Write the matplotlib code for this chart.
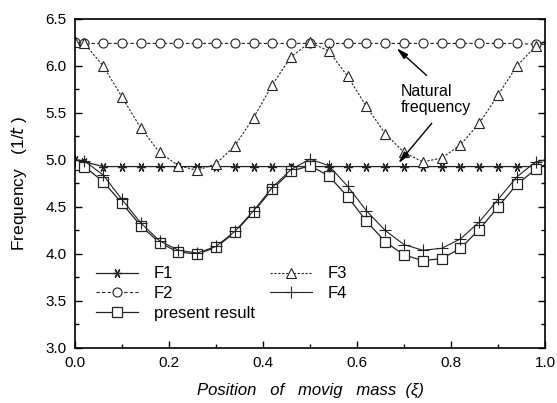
import matplotlib
matplotlib.use("Agg")
import matplotlib.pyplot as plt
from matplotlib.ticker import MultipleLocator

plt.rcParams['font.family'] = ['Liberation Sans', 'DejaVu Sans']

# positions of the moving mass (xi)
xi = [0.00, 0.02, 0.06, 0.10, 0.14, 0.18, 0.22, 0.26, 0.30, 0.34, 0.38, 0.42, 0.46, 0.50,
      0.54, 0.58, 0.62, 0.66, 0.70, 0.74, 0.78, 0.82, 0.86, 0.90, 0.94, 0.98, 1.00]

f1 = [5.00, 4.98, 4.93, 4.93, 4.93, 4.93, 4.93, 4.93, 4.93, 4.93, 4.93, 4.93, 4.93, 4.93,
      4.93, 4.93, 4.93, 4.93, 4.93, 4.93, 4.93, 4.93, 4.93, 4.93, 4.93, 4.93, 4.93]
f2 = [6.25, 6.24, 6.24, 6.24, 6.24, 6.24, 6.24, 6.24, 6.24, 6.24, 6.24, 6.24, 6.24, 6.24,
      6.24, 6.24, 6.24, 6.24, 6.24, 6.24, 6.24, 6.24, 6.24, 6.24, 6.24, 6.23, 6.23]
f3 = [6.26, 6.24, 6.00, 5.67, 5.34, 5.08, 4.94, 4.89, 4.96, 5.15, 5.45, 5.80, 6.10, 6.25,
      6.16, 5.89, 5.57, 5.28, 5.08, 4.98, 5.02, 5.16, 5.39, 5.69, 6.00, 6.21, 6.26]
f4 = [5.00, 4.99, 4.84, 4.58, 4.33, 4.14, 4.04, 4.01, 4.08, 4.24, 4.46, 4.71, 4.90, 5.01,
      4.94, 4.72, 4.46, 4.25, 4.10, 4.04, 4.06, 4.16, 4.34, 4.58, 4.82, 4.98, 5.00]
present = [4.95, 4.93, 4.77, 4.54, 4.30, 4.12, 4.02, 4.00, 4.07, 4.23, 4.45, 4.69, 4.88, 4.94,
           4.83, 4.61, 4.35, 4.13, 3.99, 3.93, 3.95, 4.06, 4.26, 4.50, 4.74, 4.90, 4.95]

fig = plt.figure(figsize=(5.57, 4.03), dpi=100)
ax = fig.add_axes([0.1346, 0.1365, 0.8439, 0.8164])

mk = list(range(len(xi) - 1))  # no marker at the right edge

ax.plot(xi, f1, color='#222222', lw=0.9, marker=(6, 2, 90), ms=6.5, mew=0.9,
        markevery=mk, label='F1')
ax.plot(xi, f2, color='#222222', lw=0.8, ls=(0, (3, 2)), marker='o', ms=6.5, mfc='white',
        mec='#222222', mew=0.8, markevery=mk, label='F2')
ax.plot(xi, present, color='#222222', lw=0.9, marker='s', ms=6.8, mfc='white',
        mec='#222222', mew=0.9, markevery=mk, label='present result')
ax.plot(xi, f3, color='#222222', lw=0.8, ls=(0, (2, 1.5)), marker='^', ms=7.5, mfc='white',
        mec='#222222', mew=0.8, markevery=mk, label='F3')
ax.plot(xi, f4, color='#222222', lw=0.8, marker='+', ms=8.5, mew=0.8,
        markevery=mk, label='F4')

ax.set_xlim(0.0, 1.0)
ax.set_ylim(3.0, 6.5)
ax.xaxis.set_major_locator(MultipleLocator(0.2))
ax.xaxis.set_minor_locator(MultipleLocator(0.1))
ax.yaxis.set_major_locator(MultipleLocator(0.5))
ax.yaxis.set_minor_locator(MultipleLocator(0.25))
ax.xaxis.set_major_formatter(plt.FormatStrFormatter('%.1f'))
ax.yaxis.set_major_formatter(plt.FormatStrFormatter('%.1f'))
ax.tick_params(which='both', direction='in', right=True, labelsize=11)
ax.tick_params(which='major', length=5, width=1, pad=6)
ax.tick_params(which='minor', length=3, width=1)
for s in ax.spines.values():
    s.set_linewidth(1.2)

ax.set_xlabel('Position   of   movig   mass  (\u03be)', fontsize=12, fontstyle='italic',
              labelpad=9)
ax.set_ylabel('Frequency   (1/$t$ )', fontsize=12.5, labelpad=12)

ax.text(0.693, 5.64, 'Natural\nfrequency', fontsize=11.5, ha='left', va='center',
        linespacing=1.1)
arrow = dict(arrowstyle='-|>,head_length=0.7,head_width=0.18', color='black', lw=1.0,
             shrinkA=0, shrinkB=0)
ax.annotate('', xy=(0.684, 6.19), xytext=(0.748, 5.90), arrowprops=arrow)
ax.annotate('', xy=(0.688, 4.965), xytext=(0.759, 5.39), arrowprops=arrow)

ax.legend(loc='upper left', bbox_to_anchor=(0.045, 0.248), ncol=2, frameon=False,
          fontsize=12, handlelength=2.5, handletextpad=0.95, columnspacing=0.95,
          labelspacing=0.28, borderpad=0, borderaxespad=0)

fig.savefig('out.png', dpi=100)
